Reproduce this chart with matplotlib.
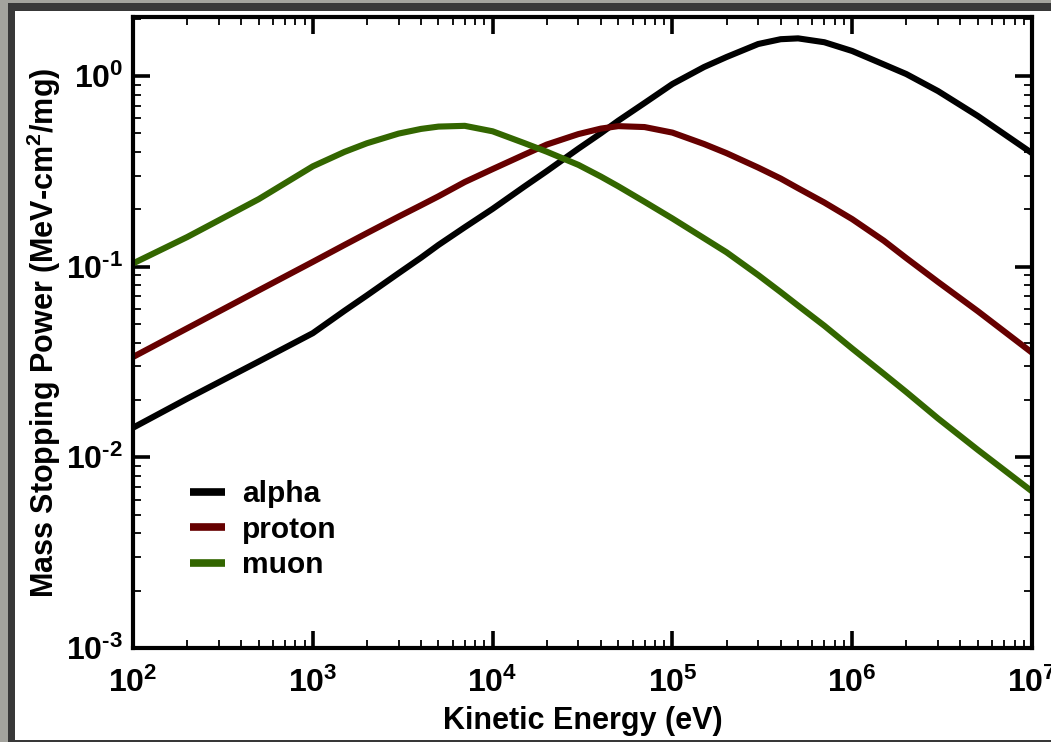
import math
import matplotlib
matplotlib.use("Agg")
import matplotlib.pyplot as plt
from matplotlib.patches import Rectangle
from matplotlib.ticker import LogLocator, NullFormatter, FuncFormatter

# Mass stopping power versus kinetic energy for three charged particles
energy_ev = [1e2, 2e2, 5e2, 1e3, 1.5e3, 2e3, 3e3, 4e3, 5e3, 7e3, 1e4, 1.5e4,
             2e4, 3e4, 4e4, 5e4, 7e4, 1e5, 1.5e5, 2e5, 3e5, 4e5, 5e5, 7e5,
             1e6, 1.5e6, 2e6, 3e6, 5e6, 1e7]
alpha = [0.0143, 0.0203, 0.0318, 0.0448, 0.0587, 0.0707, 0.0924, 0.1115,
         0.130, 0.161, 0.201, 0.263, 0.317, 0.416, 0.501, 0.583, 0.722,
         0.908, 1.115, 1.258, 1.472, 1.560, 1.576, 1.504, 1.353, 1.150,
         1.024, 0.834, 0.617, 0.394]
proton = [0.0336, 0.0475, 0.0751, 0.106, 0.130, 0.150, 0.183, 0.210,
          0.234, 0.278, 0.325, 0.387, 0.437, 0.496, 0.530, 0.546, 0.540,
          0.505, 0.440, 0.394, 0.331, 0.290, 0.258, 0.217, 0.1776, 0.1368,
          0.1109, 0.0832, 0.0584, 0.0354]
muon = [0.104, 0.143, 0.226, 0.336, 0.400, 0.444, 0.499, 0.528, 0.543,
        0.548, 0.513, 0.445, 0.401, 0.342, 0.297, 0.264, 0.219, 0.179,
        0.141, 0.119, 0.0904, 0.0736, 0.0625, 0.0490, 0.0372, 0.0274,
        0.0220, 0.0160, 0.01094, 0.00663]

series = [("alpha", alpha, "#000000"),
          ("proton", proton, "#660000"),
          ("muon", muon, "#336600")]

plt.rcParams["font.family"] = ["Liberation Sans", "DejaVu Sans"]
plt.rcParams["font.weight"] = "bold"
plt.rcParams["mathtext.fontset"] = "custom"
plt.rcParams["mathtext.rm"] = "Liberation Sans:bold"
plt.rcParams["mathtext.bf"] = "Liberation Sans:bold"
plt.rcParams["mathtext.it"] = "Liberation Sans:bold:italic"

W, H = 1051, 742
fig = plt.figure(figsize=(W / 100, H / 100), dpi=100)
fig.patch.set_facecolor("#a3a39d")

# window frame and white canvas
fig.patches.append(Rectangle((8 / W, 0), 1, (H - 3) / H, transform=fig.transFigure,
                             facecolor="#383838", edgecolor="none", zorder=-20))
fig.patches.append(Rectangle((15 / W, 2 / H), 1, (740 - 11) / H, transform=fig.transFigure,
                             facecolor="white", edgecolor="none", zorder=-19))

left, right, top, bottom = 133, 1032, 17, 648
ax = fig.add_axes([left / W, 1 - bottom / H, (right - left) / W, (bottom - top) / H])
ax.set_facecolor("white")

for name, vals, col in series:
    ax.plot(energy_ev, vals, color=col, lw=4.4, label=name,
            solid_joinstyle="round", solid_capstyle="butt")

ax.set_xscale("log")
ax.set_yscale("log")
ax.set_xlim(1e2, 1e7)
ax.set_ylim(1e-3, 2.04)


def power_label(v, pos):
    e = int(round(math.log10(v)))
    if e < 0:
        return r"$\mathrm{10^{\text{-}%d}}$" % (-e)
    return r"$\mathrm{10^{%d}}$" % e


for axis in (ax.xaxis, ax.yaxis):
    axis.set_major_locator(LogLocator(base=10, numticks=20))
    axis.set_minor_locator(LogLocator(base=10, subs=[2, 3, 4, 5, 6, 7, 8, 9], numticks=20))
    axis.set_minor_formatter(NullFormatter())
    axis.set_major_formatter(FuncFormatter(power_label))

ax.tick_params(which="both", direction="in", top=True, right=True, colors="black")
ax.tick_params(which="major", length=12, width=2.6, labelsize=23)
ax.tick_params(which="minor", length=6, width=1.3)
ax.tick_params(axis="x", which="major", pad=14)
ax.tick_params(axis="y", which="major", pad=7)

for sp in ax.spines.values():
    sp.set_linewidth(3.0)

ax.set_xlabel("Kinetic Energy (eV)", fontsize=22, fontweight="bold", labelpad=5)
ax.set_ylabel("Mass Stopping Power (MeV-cm$^2$/mg)", fontsize=22, fontweight="bold", labelpad=2)

leg = ax.legend(loc="upper left", bbox_to_anchor=(0.063, 0.266), frameon=False,
                fontsize=21.5, handlelength=1.2, handletextpad=0.55,
                labelspacing=0.25, borderpad=0, borderaxespad=0)
for h in leg.legend_handles:
    h.set_linewidth(5.5)

fig.savefig("out.png", dpi=100, facecolor=fig.get_facecolor())
